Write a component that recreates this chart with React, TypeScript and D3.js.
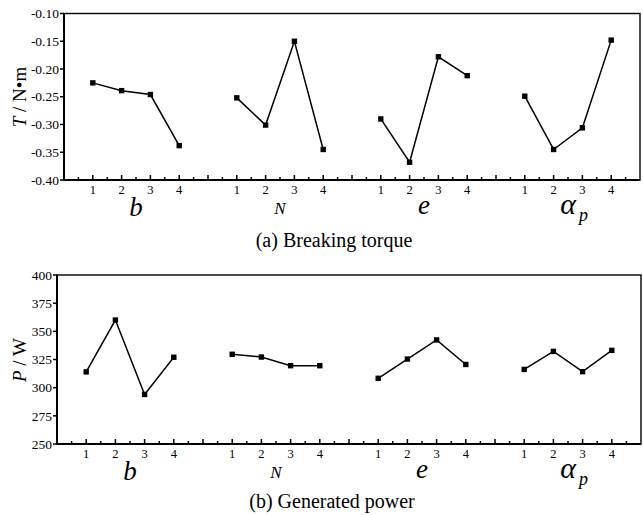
import React from "react";
import * as d3 from "d3";

// factor levels and their slot on the shared x axis (20 slots wide)
const levels = ["1", "2", "3", "4"];
const factors = ["b", "N", "e", "alpha"];
const groupStart = [1, 6, 11, 16];

// (a) breaking torque, N·m
const torqueB = [-0.225, -0.239, -0.246, -0.338];
const torqueN = [-0.252, -0.301, -0.15, -0.345];
const torqueE = [-0.29, -0.368, -0.178, -0.212];
const torqueAlpha = [-0.249, -0.345, -0.306, -0.148];
const torqueTicks = [-0.4, -0.35, -0.3, -0.25, -0.2, -0.15, -0.1];

// (b) generated power, W
const powerB = [314, 360, 294, 327];
const powerN = [329.6, 327.2, 319.5, 319.5];
const powerE = [308.3, 325.4, 342.4, 320.6];
const powerAlpha = [316.2, 332.2, 314.2, 333.1];
const powerTicks = [250, 275, 300, 325, 350, 375, 400];

const serif = { fontFamily: "Liberation Serif, Times New Roman, serif" };

const FactorLabel = ({ name, x, y }) => {
  if (name === "b") {
    return <text x={x} y={y} textAnchor="middle" fontSize={27} fontStyle="italic" style={serif}>b</text>;
  }
  if (name === "N") {
    return <text x={x} y={y - 2} textAnchor="middle" fontSize={17} fontStyle="italic" style={serif}>N</text>;
  }
  if (name === "e") {
    return <text x={x} y={y - 2} textAnchor="middle" fontSize={27} fontStyle="italic" style={serif}>e</text>;
  }
  return (
    <g style={serif} fontStyle="italic">
      <text x={x} y={y - 2} textAnchor="middle" fontSize={30}>α</text>
      <text x={x + 11} y={y + 5} fontSize={18}>p</text>
    </g>
  );
};

const Panel = ({ series, ticks, domain, box, fmt, yLabel, caption }) => {
  const { left, right, top, bottom } = box;
  const x = d3.scaleLinear().domain([0, 20]).range([left, right]);
  const y = d3.scaleLinear().domain(domain).range([bottom, top]);
  const halfTicks = d3.range(0.5, 20, 0.5);

  return (
    <g style={serif}>
      {/* frame */}
      <rect x={left} y={top} width={right - left} height={bottom - top} fill="none" stroke="#000" strokeWidth={1.4} />
      <line x1={left} x2={left} y1={top} y2={bottom} stroke="#000" strokeWidth={2} />
      <line x1={left} x2={right} y1={bottom} y2={bottom} stroke="#000" strokeWidth={2} />

      {/* y ticks, outward */}
      {ticks.map((t) => (
        <g key={t}>
          <line x1={left - 4} x2={left} y1={y(t)} y2={y(t)} stroke="#000" strokeWidth={1.5} />
          <text x={left - 5} y={y(t)} dy="0.35em" textAnchor="end" fontSize={13.5} style={serif}>
            {fmt(t)}
          </text>
        </g>
      ))}

      {/* x ticks, inward */}
      {halfTicks.map((t) => (
        <line
          key={t}
          x1={x(t)}
          x2={x(t)}
          y1={bottom}
          y2={bottom - (Number.isInteger(t) ? 5 : 3)}
          stroke="#000"
          strokeWidth={1.5}
        />
      ))}

      {series.map((vals, gi) => {
        const xs = vals.map((_, i) => x(groupStart[gi] + i));
        const d = d3
          .line<number>()
          .x((_, i) => xs[i])
          .y((v) => y(v))(vals);
        return (
          <g key={gi}>
            {levels.map((lv, i) => (
              <text key={lv} x={xs[i]} y={bottom + 14} textAnchor="middle" fontSize={12.5} style={serif}>
                {lv}
              </text>
            ))}
            <path d={d} fill="none" stroke="#000" strokeWidth={1.5} />
            {vals.map((v, i) => (
              <rect key={i} x={xs[i] - 2.7} y={y(v) - 2.7} width={5.4} height={5.4} fill="#000" />
            ))}
            <FactorLabel name={factors[gi]} x={x(groupStart[gi] + 1.5)} y={bottom + 36} />
          </g>
        );
      })}

      {yLabel}
      <text x={caption.x} y={caption.y} textAnchor="middle" fontSize={20} style={serif}>
        {caption.text}
      </text>
    </g>
  );
};

export default function App() {
  return (
    <svg width={643} height={515} style={{ position: "absolute", left: 0, top: 0, background: "#fff" }}>
      <Panel
        series={[torqueB, torqueN, torqueE, torqueAlpha]}
        ticks={torqueTicks}
        domain={[-0.4, -0.1]}
        box={{ left: 64, right: 640, top: 13.5, bottom: 180 }}
        fmt={(t) => t.toFixed(2)}
        yLabel={
          <text transform="translate(26,97) rotate(-90)" textAnchor="middle" fontSize={19} style={serif}>
            <tspan fontStyle="italic">T</tspan> / N•m
          </text>
        }
        caption={{ x: 334, y: 247, text: "(a) Breaking torque" }}
      />
      <Panel
        series={[powerB, powerN, powerE, powerAlpha]}
        ticks={powerTicks}
        domain={[250, 400]}
        box={{ left: 57, right: 641, top: 275, bottom: 444 }}
        fmt={(t) => String(t)}
        yLabel={
          <text transform="translate(26,360) rotate(-90)" textAnchor="middle" fontSize={19} style={serif}>
            <tspan fontStyle="italic">P</tspan> / W
          </text>
        }
        caption={{ x: 332, y: 508, text: "(b) Generated power" }}
      />
    </svg>
  );
}
